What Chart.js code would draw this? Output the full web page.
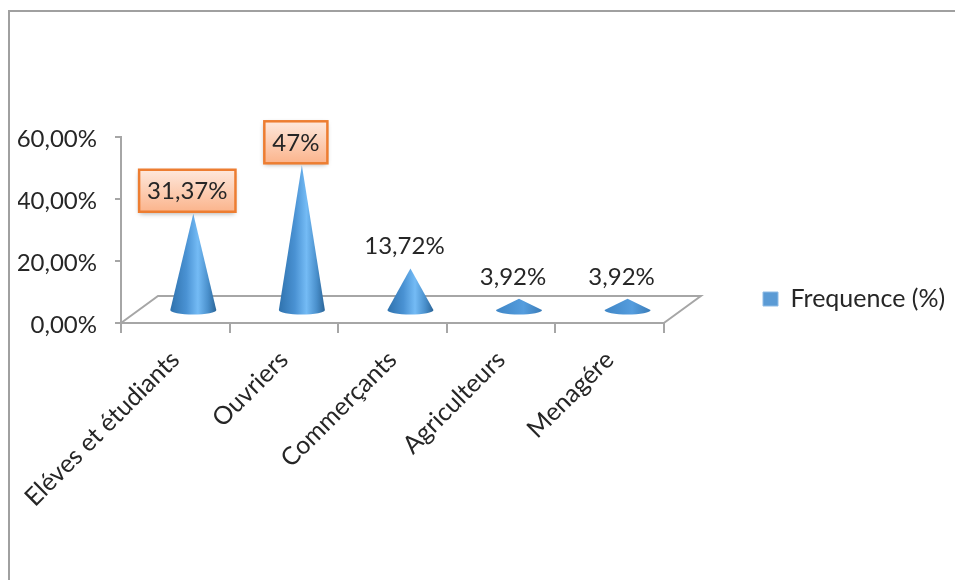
<!DOCTYPE html>
<html>
<head>
<meta charset="utf-8">
<script src="https://cdn.jsdelivr.net/npm/chart.js@4"></script>
<style>
  html, body { margin: 0; padding: 0; background: #fff; }
  #wrap { position: relative; width: 955px; height: 580px; overflow: hidden; }
  #frame { position: absolute; left: 8px; top: 10px; right: -4px; bottom: -4px;
           border: 2px solid #a0a0a0; border-right: 0; border-bottom: 0; }
  canvas { position: absolute; left: 0; top: 0; }
</style>
</head>
<body>
<div id="wrap">
  <div id="frame"></div>
  <canvas id="chart" width="955" height="580"></canvas>
</div>
<script>
const categories = ['Eléves et étudiants', 'Ouvriers', 'Commerçants', 'Agriculteurs', 'Menagére'];
const frequence = [31.37, 47, 13.72, 3.92, 3.92];
const valueLabels = ['31,37%', '47%', '13,72%', '3,92%', '3,92%'];
const boxedLabels = [true, true, false, false, false];
const seriesName = 'Frequence (%)';
const tickValues = [0, 20, 40, 60];

const FONT = 'Lato, Carlito, sans-serif';
const TEXT = '#262626';
const AXIS = '#a6a6a6';

// the fake 3D floor and the cones sit in this offset from the axis
const floorShift = { x: 37, y: -27 };
const coneShift = { x: 18, y: -12 };

function drawFloor(ctx, area) {
  ctx.save();
  ctx.strokeStyle = AXIS;
  ctx.lineWidth = 2;
  ctx.beginPath();
  ctx.moveTo(area.left, area.bottom);
  ctx.lineTo(area.left + floorShift.x, area.bottom + floorShift.y);
  ctx.lineTo(area.right + floorShift.x, area.bottom + floorShift.y);
  ctx.lineTo(area.right, area.bottom);
  ctx.stroke();
  ctx.restore();
}

function drawCone(ctx, bar, value) {
  const cx = bar.x + coneShift.x;
  const topY = bar.y + coneShift.y;
  const baseY = bar.base + coneShift.y;
  const hw = 23, ry = 4.5;
  const g = ctx.createLinearGradient(cx - hw, 0, cx + hw, 0);
  if (value < 5) {
    // very flat cones hardly show the highlight
    g.addColorStop(0, '#3f86c6');
    g.addColorStop(0.6, '#559dde');
    g.addColorStop(1, '#3a7cb8');
  } else {
    g.addColorStop(0, '#2f72ad');
    g.addColorStop(0.35, '#4a92d3');
    g.addColorStop(0.6, '#74bbf5');
    g.addColorStop(0.82, '#4a90cc');
    g.addColorStop(1, '#2b6598');
  }
  ctx.save();
  ctx.fillStyle = g;
  ctx.beginPath();
  ctx.moveTo(cx, topY);
  ctx.lineTo(cx + hw, baseY);
  ctx.ellipse(cx, baseY, hw, ry, 0, 0, Math.PI);
  ctx.closePath();
  ctx.fill();
  ctx.restore();
}

function drawValueLabel(ctx, bar, text, boxed) {
  const cx = bar.x + coneShift.x - 6;
  const cy = bar.y + coneShift.y - 23;
  ctx.save();
  ctx.font = '24px ' + FONT;
  ctx.textAlign = 'center';
  ctx.textBaseline = 'middle';
  if (boxed) {
    const w = ctx.measureText(text).width + 16;
    const h = 42;
    const g = ctx.createLinearGradient(0, cy - h / 2, 0, cy + h / 2);
    g.addColorStop(0, '#fee8dc');
    g.addColorStop(1, '#fbb48c');
    ctx.save();
    ctx.shadowColor = 'rgba(0,0,0,0.35)';
    ctx.shadowBlur = 5;
    ctx.shadowOffsetY = 2;
    ctx.fillStyle = g;
    ctx.fillRect(cx - w / 2, cy - h / 2, w, h);
    ctx.restore();
    ctx.strokeStyle = '#ed7d31';
    ctx.lineWidth = 2.5;
    ctx.strokeRect(cx - w / 2, cy - h / 2, w, h);
  }
  ctx.fillStyle = TEXT;
  ctx.fillText(text, cx, cy + 1);
  ctx.restore();
}

const conePlugin = {
  id: 'cones',
  // the legend sits apart from the plot, not against it
  afterLayout(chart) {
    const lg = chart.legend;
    const w = lg.width, h = lg.height;
    lg.left = 753;
    lg.right = lg.left + w;
    lg.top = 299 - h / 2;
    lg.bottom = lg.top + h;
  },
  beforeDatasetsDraw(chart) {
    drawFloor(chart.ctx, chart.chartArea);
  },
  // the bars are replaced by cones, the legend still uses the dataset colour
  beforeDatasetDraw(chart, args) {
    const bars = chart.getDatasetMeta(args.index).data;
    bars.forEach((bar, i) => drawCone(chart.ctx, bar, frequence[i]));
    bars.forEach((bar, i) => drawValueLabel(chart.ctx, bar, valueLabels[i], boxedLabels[i]));
    return false;
  }
};

new Chart(document.getElementById('chart').getContext('2d'), {
  type: 'bar',
  data: {
    labels: categories,
    datasets: [{
      label: seriesName,
      data: frequence,
      backgroundColor: '#5b9bd5',
      borderColor: '#8fbce6',
      borderWidth: 1
    }]
  },
  options: {
    responsive: false,
    animation: false,
    layout: { padding: { top: 137, bottom: 0, left: 18, right: 89 } },
    plugins: {
      tooltip: { enabled: false },
      legend: {
        position: 'right',
        labels: {
          boxWidth: 15,
          boxHeight: 14,
          padding: 10,
          color: TEXT,
          font: { family: FONT, size: 25 }
        }
      }
    },
    scales: {
      x: {
        afterFit(scale) { scale.height = 257; },
        grid: { offset: true, drawOnChartArea: false, color: AXIS, lineWidth: 2, tickLength: 10 },
        border: { color: AXIS, width: 2 },
        ticks: {
          color: TEXT,
          minRotation: 45,
          maxRotation: 45,
          padding: 12,
          font: { family: FONT, size: 25 }
        }
      },
      y: {
        min: 0,
        max: 60,
        afterBuildTicks(scale) { scale.ticks = tickValues.map(v => ({ value: v })); },
        afterFit(scale) { scale.width = 103; },
        grid: { drawOnChartArea: false, color: AXIS, lineWidth: 2, tickLength: 6 },
        border: { color: AXIS, width: 2 },
        ticks: {
          color: TEXT,
          padding: 18,
          font: { family: FONT, size: 24 },
          labelOffset: 2,
          callback: v => v.toFixed(2).replace('.', ',') + '%'
        }
      }
    }
  },
  plugins: [conePlugin]
});
</script>
</body>
</html>
